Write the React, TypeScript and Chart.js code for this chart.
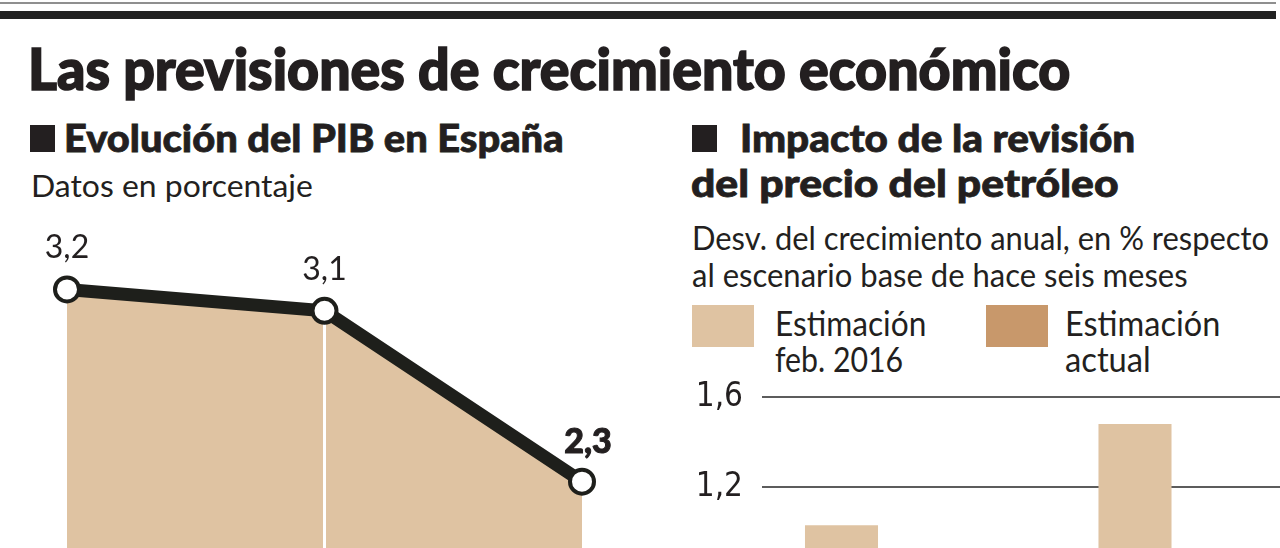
import React, { useEffect, useLayoutEffect, useRef } from "react";
import { Chart, registerables } from "chart.js";

Chart.register(...registerables);

// ---------- texts ----------
const TITLE = "Las previsiones de crecimiento económico";
const LEFT_HEADING = "Evolución del PIB en España";
const LEFT_SUBTITLE = "Datos en porcentaje";
const RIGHT_HEADING = ["Impacto de la revisión", "del precio del petróleo"];
const RIGHT_SUBTITLE = [
  "Desv. del crecimiento anual, en % respecto",
  "al escenario base de hace seis meses",
];

// ---------- left chart data ----------
const pibYears = ["2015", "2016", "2017"];
const pibValues = [3.2, 3.1, 2.3];

// ---------- right chart data ----------
const oilYears = ["2016", "2017"];
const oilSeriesNames = [
  ["Estimación", "feb. 2016"],
  ["Estimación", "actual"],
];
const oilFeb2016 = [1.03, 1.48];
// "Estimación actual" bars fall below the visible crop of the picture
const oilActual: (number | null)[] = [null, null];
const oilTicks = [0, 0.4, 0.8, 1.2, 1.6];

// ---------- styles ----------
const INK = "#231f20";
const LINE = "#1e1f1b";
const TAN = "#dfc3a2";
const TAN_DARK = "#c8986b";
const GRID = "#5c5c5c";
const LATO = "Lato, 'Noto Sans', sans-serif";

const fmt = (v: number) => (v === 0 ? "0" : v.toFixed(1).replace(".", ","));

type FitProps = {
  text: string;
  left: number;
  baseline: number;
  size: number;
  width?: number;
  weight?: number;
  stroke?: number;
  color?: string;
};

function FitText({ text, left, baseline, size, width, weight = 400, stroke = 0, color = INK }: FitProps) {
  const ref = useRef<HTMLSpanElement>(null);
  useLayoutEffect(() => {
    const el = ref.current;
    if (!el) return;
    const fit = () => {
      const w = el.offsetWidth;
      if (width && w) el.style.transform = `scaleX(${width / w})`;
    };
    fit();
    const fonts = (document as any).fonts;
    if (fonts && fonts.ready) fonts.ready.then(fit);
  }, [text, width, size]);
  return (
    <span
      ref={ref}
      style={{
        position: "absolute",
        left,
        top: baseline - 0.887 * size,
        fontSize: size,
        lineHeight: 1,
        fontWeight: weight,
        fontFamily: LATO,
        whiteSpace: "nowrap",
        color,
        transformOrigin: "0 0",
        display: "inline-block",
        WebkitTextStroke: stroke ? `${stroke}px ${color}` : undefined,
      }}
    >
      {text}
    </span>
  );
}

function Box({ x, y, w, h, color }: { x: number; y: number; w: number; h: number; color: string }) {
  return <div style={{ position: "absolute", left: x, top: y, width: w, height: h, background: color }} />;
}

function PibChart() {
  const ref = useRef<HTMLCanvasElement>(null);
  useEffect(() => {
    if (!ref.current) return;
    const pibPlugin = {
      id: "pibDecor",
      beforeDatasetDraw(chart: any, args: any) {
        const meta = chart.getDatasetMeta(args.index);
        const ctx = chart.ctx;
        const bottom = chart.chartArea.bottom;
        ctx.save();
        ctx.strokeStyle = "#ffffff";
        ctx.lineWidth = 3;
        meta.data.forEach((pt: any, i: number) => {
          if (i === 0 || i === meta.data.length - 1) return;
          ctx.beginPath();
          ctx.moveTo(pt.x, pt.y);
          ctx.lineTo(pt.x, bottom + 5);
          ctx.stroke();
        });
        ctx.restore();
      },
      afterDatasetsDraw(chart: any) {
        const meta = chart.getDatasetMeta(0);
        const ctx = chart.ctx;
        ctx.save();
        ctx.fillStyle = INK;
        ctx.textAlign = "center";
        ctx.textBaseline = "alphabetic";
        meta.data.forEach((pt: any, i: number) => {
          const last = i === meta.data.length - 1;
          ctx.font = last ? `900 34px ${LATO}` : `400 32px ${LATO}`;
          if (last) {
            ctx.lineWidth = 1;
            ctx.strokeStyle = INK;
            ctx.strokeText(fmt(pibValues[i]), pt.x + 6, pt.y - 29);
          }
          ctx.fillText(fmt(pibValues[i]), pt.x + (last ? 6 : 0), pt.y - (last ? 29 : 31));
        });
        ctx.restore();
      },
    };
    const chart = new Chart(ref.current, {
      type: "line",
      data: {
        labels: pibYears,
        datasets: [
          {
            data: pibValues,
            borderColor: LINE,
            borderWidth: 13,
            fill: "start",
            backgroundColor: TAN,
            pointRadius: 12,
            pointBorderWidth: 4,
            pointBackgroundColor: "#ffffff",
            pointBorderColor: LINE,
            tension: 0,
            clip: false,
          } as any,
        ],
      },
      options: {
        responsive: false,
        animation: false,
        events: [],
        layout: { autoPadding: false, padding: { left: 67, right: 58, top: 0, bottom: 0 } } as any,
        plugins: { legend: { display: false }, tooltip: { enabled: false } },
        scales: {
          x: { display: false },
          y: { display: false, min: 1.98, max: 3.6 },
        },
      },
      plugins: [pibPlugin],
    });
    return () => chart.destroy();
  }, []);
  return (
    <canvas
      ref={ref}
      width={640}
      height={346}
      style={{ position: "absolute", left: 0, top: 204, width: 640, height: 346 }}
    />
  );
}

function OilChart() {
  const ref = useRef<HTMLCanvasElement>(null);
  useEffect(() => {
    if (!ref.current) return;
    const chart = new Chart(ref.current, {
      type: "bar",
      data: {
        labels: oilYears,
        datasets: [
          {
            label: oilSeriesNames[0].join(" "),
            data: oilFeb2016,
            backgroundColor: TAN,
            categoryPercentage: 0.9166,
            barPercentage: 0.543,
          },
          {
            label: oilSeriesNames[1].join(" "),
            data: oilActual as any,
            backgroundColor: TAN_DARK,
            categoryPercentage: 0.9166,
            barPercentage: 0.543,
          },
        ],
      },
      options: {
        responsive: false,
        animation: false,
        events: [],
        layout: { autoPadding: false, padding: { left: 0, right: 0, top: 30, bottom: 30 } } as any,
        plugins: { legend: { display: false }, tooltip: { enabled: false } },
        scales: {
          x: { display: false },
          y: {
            min: oilTicks[0],
            max: oilTicks[oilTicks.length - 1],
            afterBuildTicks: (s: any) => {
              s.ticks = oilTicks.map((v) => ({ value: v }));
            },
            afterFit: (s: any) => {
              s.width = 72;
              s.paddingTop = 0;
              s.paddingBottom = 0;
            },
            border: { display: false },
            grid: { color: GRID, lineWidth: 2, drawTicks: false },
            ticks: {
              padding: 19,
              color: INK,
              font: { family: "'Liberation Sans Narrow', 'DejaVu Sans Condensed', sans-serif", size: 33 },
              callback: (v: any) => fmt(Number(v)),
            },
          },
        },
      },
    });
    return () => chart.destroy();
  }, []);
  return (
    <canvas
      ref={ref}
      width={659}
      height={420}
      style={{ position: "absolute", left: 690, top: 367, width: 659, height: 420 }}
    />
  );
}

export default function App() {
  return (
    <div
      style={{
        position: "fixed",
        left: 0,
        top: 0,
        width: 1280,
        height: 548,
        overflow: "hidden",
        background: "#ffffff",
      }}
    >
      {/* top rules */}
      <Box x={0} y={2} w={1276} h={2} color="#8f8f8f" />
      <Box x={0} y={11} w={1276} h={8} color="#222222" />

      <FitText text={TITLE} left={28} baseline={91} size={57} width={1042} weight={900} stroke={1.6} />

      {/* left block */}
      <Box x={30} y={125} w={25} h={27} color={INK} />
      <FitText text={LEFT_HEADING} left={64} baseline={152} size={38} width={500} weight={900} stroke={0.8} />
      <FitText text={LEFT_SUBTITLE} left={31} baseline={197} size={31} width={282} />
      <PibChart />

      {/* right block */}
      <Box x={692} y={125} w={25} h={27} color={INK} />
      <FitText text={RIGHT_HEADING[0]} left={740} baseline={152} size={38} width={395} weight={900} stroke={0.8} />
      <FitText text={RIGHT_HEADING[1]} left={691} baseline={197} size={38} width={428} weight={900} stroke={0.8} />
      <FitText text={RIGHT_SUBTITLE[0]} left={692} baseline={250} size={33} width={577} />
      <FitText text={RIGHT_SUBTITLE[1]} left={692} baseline={287} size={33} width={496} />

      {/* legend */}
      <Box x={692} y={305} w={62} h={42} color={TAN} />
      <FitText text={oilSeriesNames[0][0]} left={775} baseline={336} size={35} width={151} />
      <FitText text={oilSeriesNames[0][1]} left={775} baseline={372} size={35} width={128} />
      <Box x={986} y={305} w={62} h={42} color={TAN_DARK} />
      <FitText text={oilSeriesNames[1][0]} left={1065} baseline={336} size={35} width={155} />
      <FitText text={oilSeriesNames[1][1]} left={1065} baseline={372} size={35} width={86} />
      <OilChart />
    </div>
  );
}
